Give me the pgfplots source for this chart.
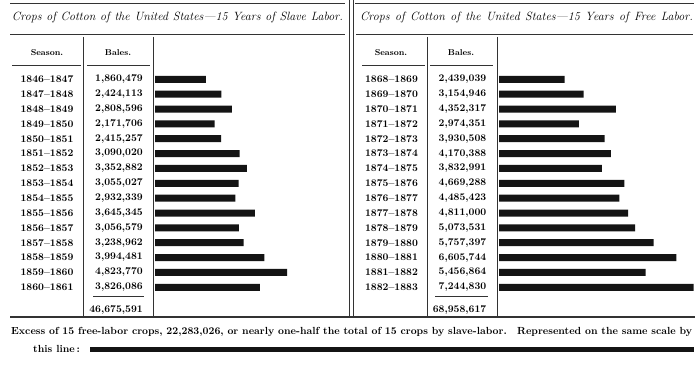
\documentclass[border=0pt]{standalone}
\usepackage{pgfplots}
\pgfplotsset{compat=1.18}
\usepackage{pgfplotstable}
\pgfplotstableread{
row bales
1 1860479
2 2424113
3 2808596
4 2171706
5 2415257
6 3090020
7 3352882
8 3055027
9 2932339
10 3645345
11 3056579
12 3238962
13 3994481
14 4823770
15 3826086
}\slave
\pgfplotstableread{
row bales
1 2439039
2 3154946
3 4352317
4 2974351
5 3930508
6 4170388
7 3832991
8 4669288
9 4485423
10 4811000
11 5073531
12 5757397
13 6605744
14 5456864
15 7244830
}\free
\begin{document}
\begin{tikzpicture}[x=1pt,y=-1pt]
\path[use as bounding box] (0,0) rectangle (700,371);
\fill[white] (0,0) rectangle (700,371);
% rules
\begin{scope}[draw=black!80]
\draw[line width=0.6pt] (10,3) -- (345,3);
\draw[line width=0.6pt] (355,3) -- (694,3);
\draw[line width=1pt] (10,35) -- (345,35);
\draw[line width=1pt] (356,35) -- (693,35);
\draw[line width=0.7pt] (349.5,0) -- (349.5,317);
\draw[line width=0.7pt] (353.3,0) -- (353.3,317);
\draw[line width=0.7pt] (83,37) -- (83,317);
\draw[line width=0.7pt] (153,37) -- (153,317);
\draw[line width=0.7pt] (427.5,37) -- (427.5,317);
\draw[line width=0.7pt] (497,37) -- (497,317);
\draw[line width=0.8pt] (12,65.5) -- (81,65.5);
\draw[line width=0.8pt] (87,65.5) -- (150,65.5);
\draw[line width=0.8pt] (362,65.5) -- (425,65.5);
\draw[line width=0.8pt] (430,65.5) -- (493,65.5);
\draw[line width=0.8pt] (93,296) -- (144,296);
\draw[line width=0.8pt] (435,296) -- (488,296);
\draw[line width=1.1pt] (10,317) -- (695,317);
\end{scope}
% titles
\node at (177.5,18) {\fontsize{12}{14}\selectfont\itshape\makebox[331pt][s]{Crops of Cotton of the United States—15 Years of Slave Labor.}};
\node at (526.5,18) {\fontsize{12}{14}\selectfont\itshape\makebox[333pt][s]{Crops of Cotton of the United States—15 Years of Free Labor.}};
% headers
\node[font=\fontsize{8.5}{10}\selectfont\bfseries] at (47,52.5) {Season.};
\node[font=\fontsize{8.5}{10}\selectfont\bfseries] at (118,52.5) {Bales.};
\node[font=\fontsize{8.5}{10}\selectfont\bfseries] at (391,52.5) {Season.};
\node[font=\fontsize{8.5}{10}\selectfont\bfseries] at (461,52.5) {Bales.};
% row labels
\foreach \s [count=\i] in {1846–1847,1847–1848,1848–1849,1849–1850,1850–1851,1851–1852,1852–1853,1853–1854,1854–1855,1855–1856,1856–1857,1857–1858,1858–1859,1859–1860,1860–1861}
  \node[font=\fontsize{10.2}{12}\selectfont\bfseries] at (47,{79.3+(\i-1)*14.857}) {\s};
\foreach \s [count=\i] in {{1,860,479},{2,424,113},{2,808,596},{2,171,706},{2,415,257},{3,090,020},{3,352,882},{3,055,027},{2,932,339},{3,645,345},{3,056,579},{3,238,962},{3,994,481},{4,823,770},{3,826,086}}
  \node[font=\fontsize{10.2}{12}\selectfont\bfseries,anchor=east,inner xsep=0pt] at (143,{79.3+(\i-1)*14.857}) {\s};
\foreach \s [count=\i] in {1868–1869,1869–1870,1870–1871,1871–1872,1872–1873,1873–1874,1874–1875,1875–1876,1876–1877,1877–1878,1878–1879,1879–1880,1880–1881,1881–1882,1882–1883}
  \node[font=\fontsize{10.2}{12}\selectfont\bfseries] at (391.5,{79.3+(\i-1)*14.857}) {\s};
\foreach \s [count=\i] in {{2,439,039},{3,154,946},{4,352,317},{2,974,351},{3,930,508},{4,170,388},{3,832,991},{4,669,288},{4,485,423},{4,811,000},{5,073,531},{5,757,397},{6,605,744},{5,456,864},{7,244,830}}
  \node[font=\fontsize{10.2}{12}\selectfont\bfseries,anchor=east,inner xsep=0pt] at (486.5,{79.3+(\i-1)*14.857}) {\s};
\node[font=\fontsize{10.2}{12}\selectfont\bfseries,anchor=east,inner xsep=0pt] at (143,310) {46,675,591};
\node[font=\fontsize{10.2}{12}\selectfont\bfseries,anchor=east,inner xsep=0pt] at (486.5,310) {68,958,617};
% bottom text
\node[anchor=west,inner xsep=0pt] at (11,332) {\fontsize{10.3}{12}\selectfont\bfseries\makebox[681pt][s]{Excess of 15 free-labor crops, 22,283,026, or nearly one-half the total of 15 crops by slave-labor.\quad Represented on the same scale by}};
\node[anchor=west,inner xsep=0pt,font=\fontsize{10.3}{12}\selectfont\bfseries] at (33,349) {this line\,:};
% bars
\begin{axis}[at={(155pt,-79.3pt)}, anchor=north west, scale only axis,
  width=191.8pt, height=208pt, xmin=0, xmax=7000000, ymin=1, ymax=15,
  y dir=reverse, hide axis, clip=false, xbar, bar width=7pt]
\addplot[fill=black!92, draw=none] table[x=bales, y=row] {\slave};
\end{axis}
\begin{axis}[at={(499pt,-79.3pt)}, anchor=north west, scale only axis,
  width=201.4pt, height=208pt, xmin=0, xmax=7500000, ymin=1, ymax=15,
  y dir=reverse, hide axis, clip=false, xbar, bar width=7pt]
\addplot[fill=black!92, draw=none] table[x=bales, y=row] {\free};
\end{axis}
\begin{axis}[at={(90pt,-349pt)}, anchor=west, scale only axis,
  width=623.3pt, height=10pt, xmin=0, xmax=23000000, ymin=0, ymax=2,
  hide axis, clip=false, xbar, bar width=5pt]
\addplot[fill=black!92, draw=none] coordinates {(22283026,1)};
\end{axis}
\end{tikzpicture}
\end{document}
